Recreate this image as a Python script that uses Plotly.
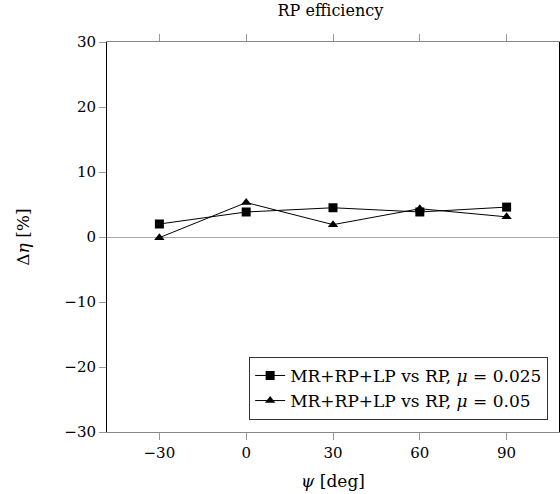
import plotly.graph_objects as go

psi = [-30, 0, 30, 60, 90]
eta_mu025 = [2.0, 3.85, 4.5, 3.85, 4.6]
eta_mu05 = [-0.1, 5.3, 1.9, 4.35, 3.1]
names = ["MR+RP+LP vs RP, <i>μ</i> = 0.025", "MR+RP+LP vs RP, <i>μ</i> = 0.05"]
xticks = [-30, 0, 30, 60, 90]
yticks = [-30, -20, -10, 0, 10, 20, 30]

FONT = "DejaVu Serif"

fig = go.Figure()
fig.add_trace(go.Scatter(x=psi, y=eta_mu025, mode="lines+markers", name=names[0],
                         line=dict(color="black", width=1),
                         marker=dict(symbol="square", size=9, color="black")))
fig.add_trace(go.Scatter(x=psi, y=eta_mu05, mode="lines+markers", name=names[1],
                         line=dict(color="black", width=1),
                         marker=dict(symbol="triangle-up", size=9, color="black")))

fig.update_layout(
    width=560, height=494,
    margin=dict(l=107, r=1, t=42, b=62, autoexpand=False),
    paper_bgcolor="white", plot_bgcolor="white",
    font=dict(family=FONT, size=15, color="black"),
    title=dict(text="RP efficiency", x=0.59, xanchor="center", y=0.99, yanchor="top",
               font=dict(size=16)),
    showlegend=True,
    legend=dict(x=0.976, y=0.031, xanchor="right", yanchor="bottom",
                bgcolor="white", bordercolor="#333", borderwidth=1,
                font=dict(size=17), tracegroupgap=0, itemwidth=30),
    xaxis=dict(range=[-48.1, 108.1], tickvals=xticks, ticks="outside", ticklen=7,
               tickcolor="#999", showgrid=False, zeroline=False, automargin=False,
               showline=True, linecolor="#888", linewidth=1, mirror="ticks",
               title=dict(text="<i>ψ</i> [deg]", standoff=14, font=dict(size=17))),
    yaxis=dict(range=[-30, 30], tickvals=yticks, ticks="outside", ticklen=7,
               tickcolor="#999", showgrid=False, zeroline=True, zerolinecolor="#aaa",
               zerolinewidth=1, showline=True, linecolor="black", linewidth=1,
               automargin=False,
               mirror="ticks", title=dict(text="Δ<i>η</i> [%]", standoff=30, font=dict(size=17)),
               tickformat="d"),
)
fig.write_html("out.html")
